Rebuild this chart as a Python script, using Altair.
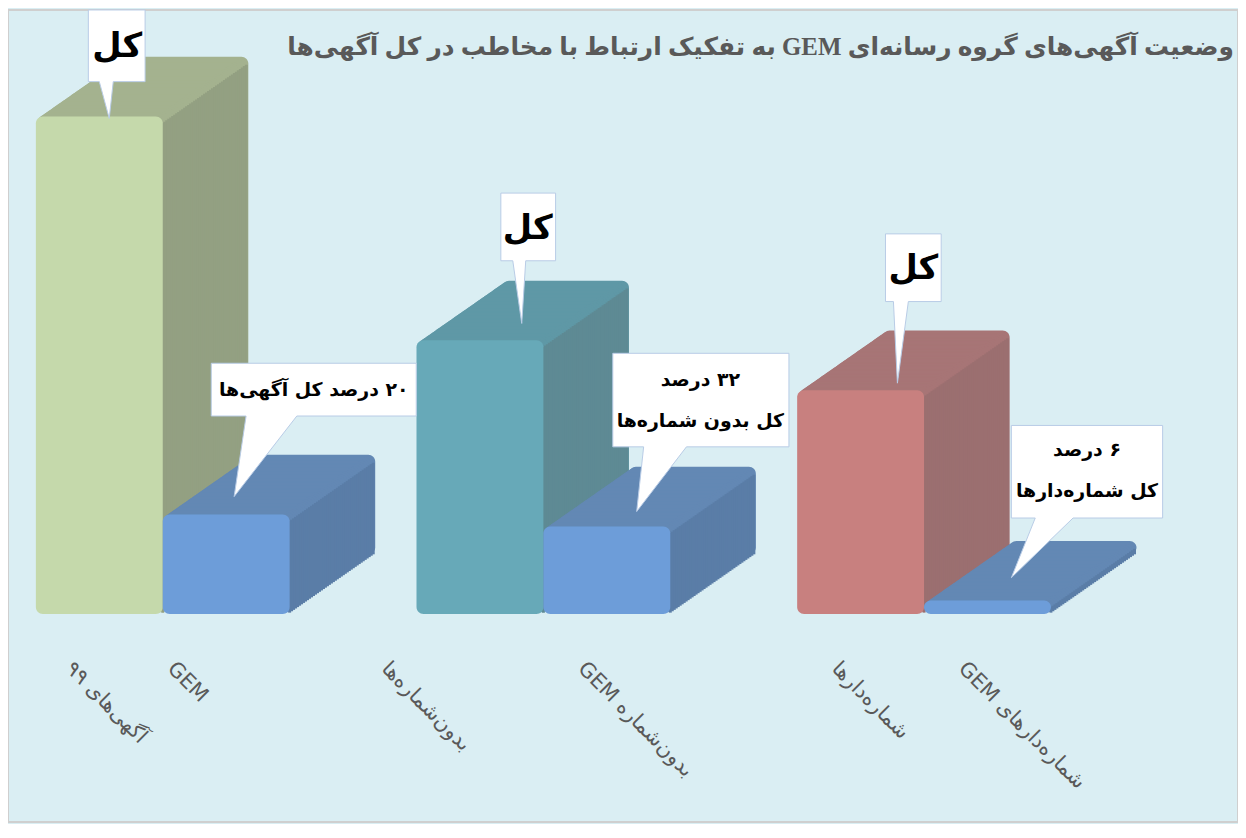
import altair as alt
import pandas as pd

# ---------------- data ----------------
categories = ["آگهی‌های ۹۹", "GEM", "بدون‌شماره‌ها", "GEM بدون‌شماره", "شماره‌دارها", "GEM شماره‌دارهای"]
values = [100, 20, 55, 17.6, 45, 2.7]          # share of all ads (total = 100)
kinds = ["total", "gem", "total", "gem", "total", "gem"]

# ---------------- style ----------------
front_colors = ["#c5d9ab", "#6d9dd9", "#67a9b8", "#6d9dd9", "#c8807f", "#6d9dd9"]
top_colors = ["#a4b28f", "#6388b4", "#5f98a6", "#6388b4", "#a77576", "#6388b4"]
side_colors = ["#93a082", "#5a7da7", "#5e8a94", "#5a7da7", "#9b6f70", "#5a7da7"]

RLE, PDF = "\u202b", "\u202c"
title_text = RLE + "وضعیت آگهی‌های گروه رسانه‌ای GEM به تفکیک ارتباط با مخاطب در کل آگهی‌ها" + PDF

W, H = 1236, 816
Y_DOMAIN = [-41.8, 121.4]
UNITS_PER_PX = (Y_DOMAIN[1] - Y_DOMAIN[0]) / H
BAND = 127.5
DX, DY = 86, 60          # depth of the 3-D extrusion in pixels
N = 43
FONT = "DejaVu Sans"

slots = [categories[0], categories[1], "_g1", categories[2], categories[3], "_g2",
         categories[4], categories[5], "_g3"]

df = pd.DataFrame({"cat": categories, "value": values, "kind": kinds,
                   "front": front_colors, "top": top_colors, "side": side_colors})

XS = alt.Scale(domain=slots, range=[28, 28 + 9 * BAND], paddingInner=0, paddingOuter=0)
YS = alt.Scale(domain=Y_DOMAIN, nice=False, zero=False)
X = alt.X("cat:N", scale=XS, axis=None)
Y = alt.Y("value:Q", scale=YS, axis=None)


def bubble(tip, box, base):
    tx, ty = tip
    x0, y0, x1, y1 = box
    b0, b1 = base
    return f"M{tx},{ty} L{b0},{y1} L{x0},{y1} L{x0},{y0} L{x1},{y0} L{x1},{y1} L{b1},{y1} Z"


# callout geometry relative to (bar centre, bar top)
callouts = {
    categories[0]: dict(path=bubble((10, 2), (-11, -107, 46, -35), (0, 14)),
                        text=["کل"], size=34, off=(18, -70), lab=-19),
    categories[1]: dict(path=bubble((8, -18), (-15, -152, 191, -99), (20, 71)),
                        text=["۲۰ درصد کل آگهی‌ها"], size=19, off=(88, -125), lab=-44),
    categories[2]: dict(path=bubble((42, -17), (21, -148, 76, -80), (33, 46)),
                        text=["کل"], size=34, off=(48, -112), lab=-84),
    categories[3]: dict(path=bubble((30, -15), (6, -174, 183, -80), (37, 80)),
                        text=["۳۲ درصد", "کل بدون شماره‌ها"], size=19, off=(94, -147), lab=-14),
    categories[4]: dict(path=bubble((37, -7), (25, -157, 81, -89), (33, 48)),
                        text=["کل"], size=34, off=(53, -122), lab=-14),
    categories[5]: dict(path=bubble((24, -23), (24, -176, 176, -83), (48, 86)),
                        text=["۶ درصد", "کل شماره‌دارها"], size=19, off=(100, -151), lab=-14),
}

base = alt.Chart(df)
layers = []

for kind in ["total", "gem"]:
    b = base.transform_filter(alt.datum.kind == kind)
    # top face (full extrusion of the box)
    for k in range(N, 0, -1):
        ox = DX * k / N
        s = DY * k / N * UNITS_PER_PX
        layers.append(
            b.transform_calculate(t=f"datum.value + {s}", bt=f"{s}")
            .mark_bar(xOffset=ox, cornerRadius=7)
            .encode(x=X, y=alt.Y("t:Q", scale=YS, axis=None), y2="bt:Q",
                    color=alt.Color("top:N", scale=None))
        )
    # side face (extrusion of the right edge only)
    for k in range(N, 0, -1):
        ox = DX * k / N
        s = DY * k / N * UNITS_PER_PX
        layers.append(
            b.transform_calculate(t=f"datum.value + {s} - 1.6", bt=f"{s}")
            .mark_bar(width=3, xOffset=BAND / 2 - 2 + ox)
            .encode(x=X, y=alt.Y("t:Q", scale=YS, axis=None), y2="bt:Q",
                    color=alt.Color("side:N", scale=None))
        )
    layers.append(
        b.transform_calculate(bt="0")
        .mark_bar(cornerRadius=7)
        .encode(x=X, y=Y, y2="bt:Q", color=alt.Color("front:N", scale=None))
    )

for cat, c in callouts.items():
    b = base.transform_filter(alt.datum.cat == cat)
    layers.append(
        b.mark_point(shape=c["path"], size=4, filled=True, fill="white", stroke="#b8cce6",
                     strokeWidth=1, opacity=1).encode(x=X, y=Y)
    )
    layers.append(
        b.mark_text(text=[RLE + t + PDF for t in c["text"]], font=FONT, fontSize=c["size"],
                    fontWeight="bold", color="black", align="center", baseline="middle",
                    lineHeight=41, xOffset=c["off"][0], yOffset=c["off"][1]).encode(x=X, y=Y)
    )
    layers.append(
        b.mark_text(angle=45, align="left", baseline="top", font=FONT, fontSize=21,
                    color="#595959", xOffset=c["lab"] - 4, yOffset=44)
        .encode(x=X, y=alt.Y(datum=0, scale=YS, axis=None), text="cat:N")
    )

layers.append(
    base.transform_filter(alt.datum.cat == categories[0])
    .mark_text(text=title_text, font="Liberation Serif, DejaVu Sans", fontSize=25,
               fontWeight="bold", color="#595959", align="right", baseline="middle")
    .encode(x=alt.value(W - 4), y=alt.value(37))
)

chart = (
    alt.layer(*layers)
    .properties(width=W, height=H, autosize=alt.AutoSizeParams(type="none"), padding=0,
                background="#daeef3")
    .configure_view(stroke="#cfcfcf", strokeWidth=2)
)

chart.save("out.html", embed_options={"renderer": "svg", "actions": False})
